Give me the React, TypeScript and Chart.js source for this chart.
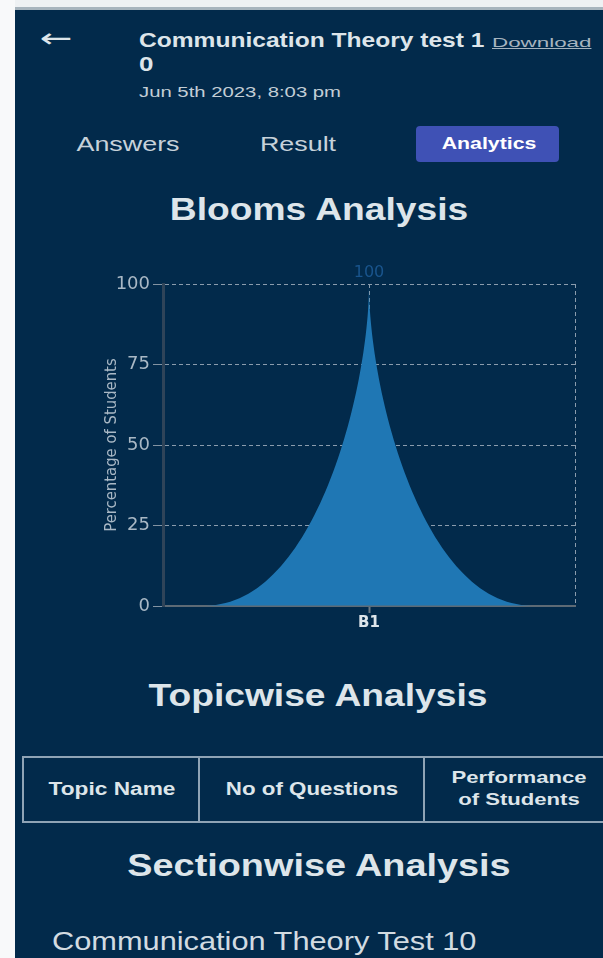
import React, { useEffect, useRef } from 'react';
import { Chart, registerables } from 'chart.js';

Chart.register(...registerables);

// ---- data ----
const bloomLevels = ['B1'];
const studentPercentages = [100];
const yTickValues = [0, 25, 50, 75, 100];
const tabLabels = ['Answers', 'Result', 'Analytics'];
const topicHeaders = ['Topic Name', 'No of Questions', 'Performance', 'of Students'];
const testTitle = 'Communication Theory test 1';
const testSub = '0';
const testDate = 'Jun 5th 2023, 8:03 pm';
const sectionName = 'Communication Theory Test 10';

const NAVY = '#022a4b';
const BAR = '#1f77b4';
const TEXT = '#dde5ea';
const TICK = '#a9b8c5';
const GRID = '#8b9cad';

const peakBarPlugin = {
  id: 'peakBar',
  afterDatasetsDraw(chart: any) {
    const ctx = chart.ctx;
    const meta = chart.getDatasetMeta(0);
    meta.data.forEach((el: any, i: number) => {
      const { x, y, base, width } = el.getProps(['x', 'y', 'base', 'width'], true);
      const left = x - width / 2;
      const h = base - y;
      ctx.save();
      ctx.beginPath();
      ctx.moveTo(left, base);
      ctx.bezierCurveTo(left + width / 3, base, x, y + h / 3, x, y);
      ctx.bezierCurveTo(x, y + h / 3, left + (2 * width) / 3, base, left + width, base);
      ctx.closePath();
      ctx.fillStyle = BAR;
      ctx.fill();
      ctx.fillStyle = '#19548c';
      ctx.font = '16px "DejaVu Sans"';
      ctx.textAlign = 'center';
      ctx.textBaseline = 'alphabetic';
      ctx.fillText(String(chart.data.datasets[0].data[i]), x, y - 7);
      ctx.restore();
    });
  },
};

function BloomsChart() {
  const ref = useRef<HTMLCanvasElement | null>(null);
  useEffect(() => {
    if (!ref.current) return;
    const chart = new Chart(ref.current, {
      type: 'bar',
      data: {
        labels: bloomLevels,
        datasets: [
          {
            data: studentPercentages,
            backgroundColor: 'rgba(0,0,0,0)',
            borderWidth: 0,
            barPercentage: 0.79,
            categoryPercentage: 1,
          },
        ],
      },
      options: {
        responsive: false,
        animation: false,
        events: [],
        layout: { padding: { top: 34, right: 15, left: 0, bottom: 0 } },
        plugins: { legend: { display: false }, tooltip: { enabled: false } },
        scales: {
          x: {
            type: 'category',
            offset: true,
            grid: {
              offset: false,
              color: GRID,
              lineWidth: 1,
              drawTicks: true,
              tickLength: 7,
              tickColor: '#6b7882',
              tickWidth: 2,
            },
            border: { display: true, color: '#5d6a75', width: 2, dash: [4, 3] },
            ticks: {
              color: TEXT,
              font: { family: 'DejaVu Sans', size: 15, weight: 'bold' },
              padding: 1,
            },
            afterFit: (axis: any) => {
              axis.height = 34;
            },
          },
          x2: {
            type: 'category',
            position: 'top',
            offset: true,
            grid: {
              offset: true,
              drawTicks: false,
              color: (c: any) => (c.index === 0 ? 'rgba(0,0,0,0)' : GRID),
            },
            border: { display: false, dash: [4, 3] },
            ticks: { display: false },
            afterFit: (axis: any) => {
              axis.height = 0;
            },
          },
          y: {
            min: yTickValues[0],
            max: yTickValues[yTickValues.length - 1],
            ticks: {
              stepSize: yTickValues[1] - yTickValues[0],
              color: TICK,
              font: { family: 'DejaVu Sans', size: 18 },
              padding: 3,
            },
            grid: {
              color: GRID,
              lineWidth: 1,
              drawTicks: true,
              tickLength: 10,
              tickColor: '#8393a2',
            },
            border: { display: true, color: '#2f4459', width: 3, dash: [4, 3] },
            title: {
              display: true,
              text: 'Percentage of Students',
              color: TICK,
              font: { family: '"Liberation Sans Narrow", "DejaVu Sans Condensed", "DejaVu Sans"', size: 16.5 },
              padding: { top: 22, bottom: 0 },
            },
            afterFit: (axis: any) => {
              axis.width = 83;
            },
          },
        },
      },
      plugins: [peakBarPlugin],
    });
    return () => chart.destroy();
  }, []);
  return (
    <canvas
      ref={ref}
      width={510}
      height={390}
      style={{ position: 'absolute', left: 80, top: 250, width: 510, height: 390 }}
    />
  );
}

const abs = (s: React.CSSProperties): React.CSSProperties => ({ position: 'absolute', whiteSpace: 'nowrap', ...s });
const centered = (sx: number): React.CSSProperties => ({ transform: `translateX(-50%) scaleX(${sx})` });
const leftScaled = (sx: number): React.CSSProperties => ({ transform: `scaleX(${sx})`, transformOrigin: 'left' });

export default function App() {
  const font = '"Liberation Sans", Arial, sans-serif';
  return (
    <div style={{ position: 'absolute', left: 0, top: 0, width: 603, height: 958, background: '#f8f9fa', overflow: 'hidden', fontFamily: font }}>
      <div style={abs({ left: 15, top: 0, width: 588, height: 7, background: '#eef1f3' })} />
      <div style={abs({ left: 15, top: 7, width: 588, height: 3, background: '#a7b4bd' })} />
      <div style={abs({ left: 15, top: 10, width: 588, height: 948, background: NAVY })} />

      {/* header */}
      <div style={abs({ left: 40, top: 23, fontSize: 26, color: TEXT, fontFamily: 'DejaVu Sans', lineHeight: '30px', ...leftScaled(1.5) })}>←</div>
      <div style={abs({ left: 139, top: 28, fontSize: 21, fontWeight: 'bold', color: TEXT, lineHeight: '24px', ...leftScaled(1.17) })}>{testTitle}</div>
      <div style={abs({ left: 492, top: 35, fontSize: 13, color: '#a6b4bf', textDecoration: 'underline', lineHeight: '15px', ...leftScaled(1.72) })}>Download</div>
      <div style={abs({ left: 139, top: 53, fontSize: 20, fontWeight: 'bold', color: TEXT, lineHeight: '22px', ...leftScaled(1.3) })}>{testSub}</div>
      <div style={abs({ left: 139, top: 84, fontSize: 14, color: '#c3ced6', lineHeight: '16px', ...leftScaled(1.45) })}>{testDate}</div>

      {/* tabs */}
      <div style={abs({ left: 128, top: 132, fontSize: 21, color: '#c7d2da', lineHeight: '24px', ...centered(1.28) })}>{tabLabels[0]}</div>
      <div style={abs({ left: 298, top: 132, fontSize: 21, color: '#c7d2da', lineHeight: '24px', ...centered(1.28) })}>{tabLabels[1]}</div>
      <div style={abs({ left: 416, top: 126, width: 143, height: 36, background: '#3f51b5', borderRadius: 4 })} />
      <div style={abs({ left: 489, top: 134, fontSize: 16, fontWeight: 'bold', color: '#ffffff', lineHeight: '20px', ...centered(1.33) })}>{tabLabels[2]}</div>

      <div style={abs({ left: 319, top: 192, fontSize: 31, fontWeight: 'bold', color: TEXT, lineHeight: '36px', ...centered(1.2) })}>Blooms Analysis</div>

      <BloomsChart />

      <div style={abs({ left: 318, top: 678, fontSize: 31, fontWeight: 'bold', color: TEXT, lineHeight: '36px', ...centered(1.2) })}>Topicwise Analysis</div>

      {/* table */}
      <div style={abs({ left: 22, top: 756, width: 620, height: 67, border: '2px solid #8fa3b5', boxSizing: 'border-box' })} />
      <div style={abs({ left: 198, top: 756, width: 2, height: 67, background: '#8fa3b5' })} />
      <div style={abs({ left: 423, top: 756, width: 2, height: 67, background: '#8fa3b5' })} />
      <div style={abs({ left: 112, top: 778, fontSize: 18, fontWeight: 'bold', color: TEXT, lineHeight: '22px', ...centered(1.26) })}>{topicHeaders[0]}</div>
      <div style={abs({ left: 312, top: 778, fontSize: 18, fontWeight: 'bold', color: TEXT, lineHeight: '22px', ...centered(1.24) })}>{topicHeaders[1]}</div>
      <div style={abs({ left: 519, top: 767, fontSize: 17, fontWeight: 'bold', color: TEXT, lineHeight: '22px', ...centered(1.3) })}>{topicHeaders[2]}</div>
      <div style={abs({ left: 519, top: 789, fontSize: 17, fontWeight: 'bold', color: TEXT, lineHeight: '22px', ...centered(1.3) })}>{topicHeaders[3]}</div>

      <div style={abs({ left: 319, top: 848, fontSize: 31, fontWeight: 'bold', color: TEXT, lineHeight: '36px', ...centered(1.22) })}>Sectionwise Analysis</div>

      <div style={abs({ left: 52, top: 926, fontSize: 25, color: '#d2dbe1', lineHeight: '30px', ...leftScaled(1.23) })}>{sectionName}</div>
    </div>
  );
}
